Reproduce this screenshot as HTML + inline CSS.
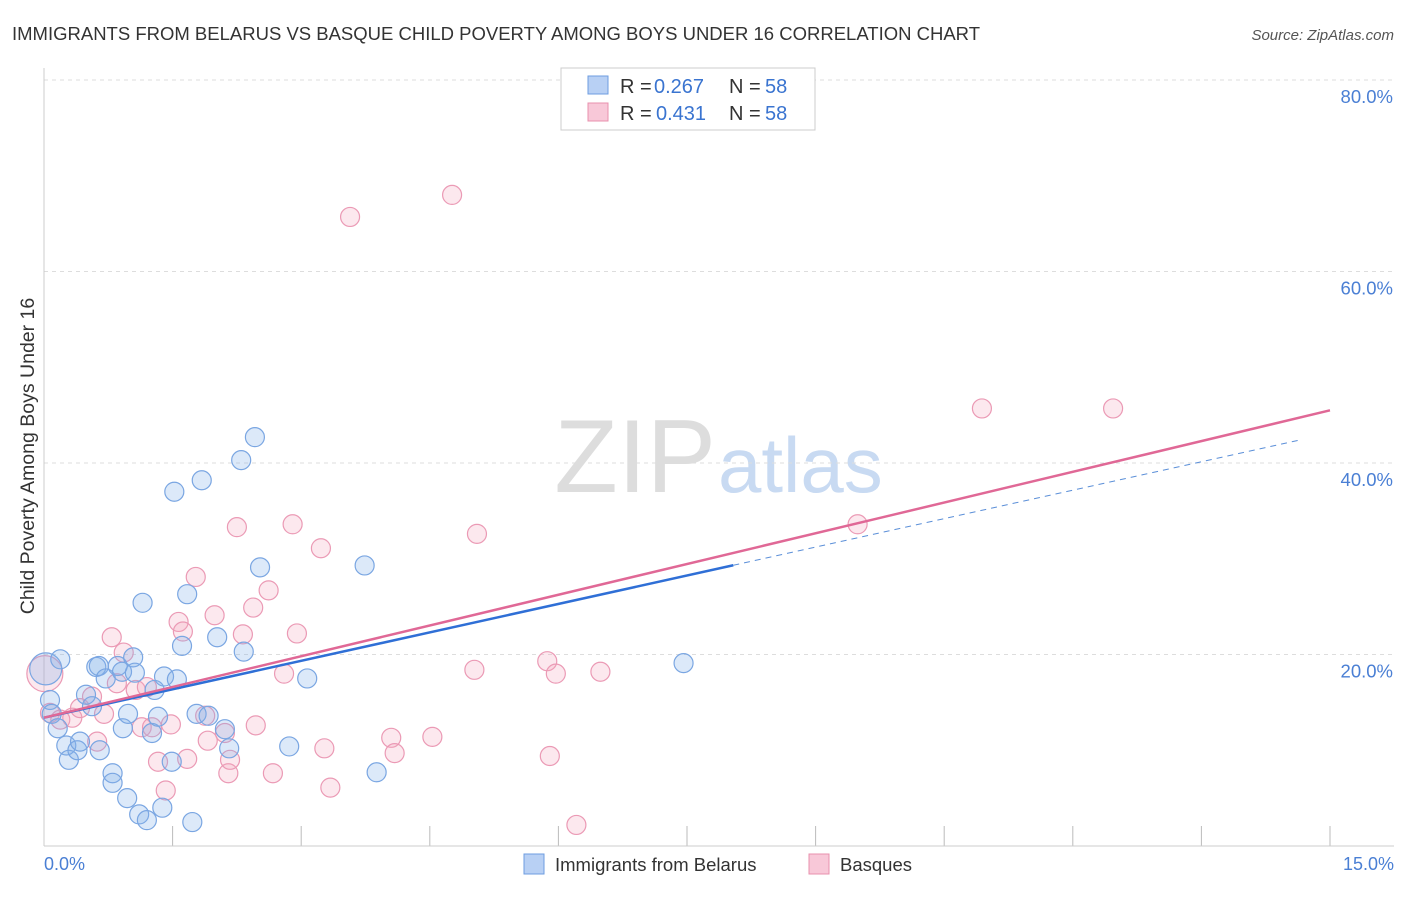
<!DOCTYPE html>
<html><head><meta charset="utf-8"><style>
body{margin:0;background:#fff;font-family:"Liberation Sans",sans-serif}
svg text{font-family:"Liberation Sans",sans-serif}
</style></head><body>
<svg id="chart" width="1406" height="892">
<text x="12" y="40" font-size="18.5" fill="#333">IMMIGRANTS FROM BELARUS VS BASQUE CHILD POVERTY AMONG BOYS UNDER 16 CORRELATION CHART</text>
<text x="1394" y="40" font-size="15" fill="#555" font-style="italic" text-anchor="end">Source: ZipAtlas.com</text>
<text x="716" y="492" font-size="104" fill="#ddd" font-family="Liberation Serif" text-anchor="end">ZIP</text>
<text x="718" y="492" font-size="78" fill="#c8daf2">atlas</text>
<g id="grid"></g>
<line x1="44" y1="68" x2="44" y2="846" stroke="#ccc"/>
<line x1="44" y1="846" x2="1394" y2="846" stroke="#ccc"/>
<text transform="translate(34,456) rotate(-90)" font-size="19.5" fill="#333" text-anchor="middle">Child Poverty Among Boys Under 16</text>
<text x="44" y="870" font-size="18" fill="#4a7fd4">0.0%</text>
<text x="1394" y="870" font-size="18" fill="#4a7fd4" text-anchor="end">15.0%</text>
<g id="marks"></g>
<g>
<rect x="561" y="68" width="254" height="62" fill="#fff" stroke="#ccc"/>
<rect x="588" y="76" width="20" height="18" fill="#b8d0f4" stroke="#6e9de0"/>
<text x="620" y="93" font-size="20" fill="#333">R =</text><text x="654" y="93" font-size="20" fill="#3a74d0">0.267</text>
<text x="729" y="93" font-size="20" fill="#333">N =</text><text x="765" y="93" font-size="20" fill="#3a74d0">58</text>
<rect x="588" y="103" width="20" height="18" fill="#f8c8d8" stroke="#e890ae"/>
<text x="620" y="120" font-size="20" fill="#333">R =</text><text x="656" y="120" font-size="20" fill="#3a74d0">0.431</text>
<text x="729" y="120" font-size="20" fill="#333">N =</text><text x="765" y="120" font-size="20" fill="#3a74d0">58</text>
</g>
<g>
<rect x="524" y="854" width="20" height="20" fill="#b8d0f4" stroke="#6e9de0"/>
<text x="555" y="871" font-size="18.5" fill="#333">Immigrants from Belarus</text>
<rect x="809" y="854" width="20" height="20" fill="#f8c8d8" stroke="#e890ae"/>
<text x="840" y="871" font-size="18.5" fill="#333">Basques</text>
</g>
</svg>
<script>
const yTicks=[20,40,60,80];
const yTickLabels=["20.0%","40.0%","60.0%","80.0%"];
const xTicks=[0,1.5,3,4.5,6,7.5,9,10.5,12,13.5,15];
const blueX=[0.07,0.19,0.09,0.16,0.26,0.29,0.39,0.42,0.49,0.56,0.61,0.64,0.65,0.72,0.80,0.80,0.86,0.91,0.92,0.97,0.98,1.04,1.06,1.11,1.15,1.20,1.26,1.29,1.33,1.38,1.40,1.49,1.52,1.55,1.61,1.67,1.73,1.78,1.84,1.92,2.02,2.11,2.16,2.30,2.33,2.46,2.52,2.86,3.07,3.74,3.88,7.46];
const blueY=[15.25,19.5,13.8,12.3,10.5,9.0,10.0,10.9,15.8,14.6,18.7,18.8,10.0,17.5,7.6,6.6,18.8,18.2,12.3,5.0,13.8,19.7,18.1,3.3,25.4,2.7,11.8,16.3,13.5,4.0,17.7,8.8,37.0,17.4,20.9,26.3,2.5,13.8,38.2,13.6,21.8,12.2,10.2,40.3,20.3,42.7,29.1,10.4,17.5,29.3,7.7,19.1];
const pinkX=[0.07,0.19,0.33,0.42,0.56,0.62,0.70,0.79,0.85,0.93,1.07,1.14,1.20,1.26,1.33,1.42,1.48,1.57,1.62,1.67,1.77,1.88,1.91,1.99,2.11,2.15,2.17,2.25,2.32,2.44,2.47,2.62,2.67,2.80,2.90,2.95,3.23,3.27,3.34,3.57,4.05,4.09,4.53,4.76,5.02,5.05,5.87,5.90,5.97,6.21,6.49,9.49,10.94,12.47];
const pinkY=[13.9,13.2,13.4,14.4,15.6,10.9,13.8,21.8,17.0,20.2,16.3,12.4,16.6,12.4,8.8,5.8,12.7,23.4,22.4,9.1,28.1,13.6,11.0,24.1,11.8,7.6,9.0,33.3,22.1,24.9,12.6,26.7,7.6,18.0,33.6,22.2,31.1,10.2,6.1,65.7,11.3,9.7,11.4,68.0,18.4,32.6,19.3,9.4,18.0,2.2,18.2,33.6,45.7,45.7];
const bigBlue=[0.02,18.5];
const bigPink=[0.01,18.0];
const blueTrend=[13.4,1.98];
const pinkTrend=[13.4,2.14];
const sx=v=>44+v/15*1286;
const sy=v=>846-v*9.575;
const NS="http://www.w3.org/2000/svg";
function mk(tag,attrs,parent){const e=document.createElementNS(NS,tag);for(const k in attrs)e.setAttribute(k,attrs[k]);parent.appendChild(e);return e;}
const grid=document.getElementById('grid'),marks=document.getElementById('marks');
yTicks.forEach((t,i)=>{
 const l=mk('line',{x1:44,x2:1394,y1:sy(t),y2:sy(t),stroke:'#ddd','stroke-dasharray':'4,4'},grid);
 
 
 const tx=mk('text',{x:1393,y:sy(t)+23,'font-size':18.5,fill:'#4a7fd4','text-anchor':'end'},grid);
 tx.textContent=yTickLabels[i];
 
 
});
xTicks.forEach(t=>{
 const l=mk('line',{x1:sx(t),x2:sx(t),y1:826,y2:846,stroke:'#bbb'},grid);
 
 
});
function dot(x,y,r,col,name){
 const c=mk('circle',{cx:sx(x),cy:sy(y),r:r,fill:col[0],stroke:col[1],'stroke-width':1.2},marks);
 
 
}
const BC=['rgba(130,175,235,0.28)','#7aa6e2'],PC=['rgba(245,165,190,0.26)','#eb9ab5'];
dot(bigPink[0],bigPink[1],18,PC,'basques-point');
dot(bigBlue[0],bigBlue[1],16,BC,'belarus-point');
pinkX.forEach((x,i)=>dot(x,pinkY[i],9.5,PC,'basques-point'));
blueX.forEach((x,i)=>dot(x,blueY[i],9.5,BC,'belarus-point'));
const bEnd=8.04,bMax=14.67;
let l1=mk('line',{x1:sx(0),y1:sy(blueTrend[0]),x2:sx(bEnd),y2:sy(blueTrend[0]+blueTrend[1]*bEnd),stroke:'#2f6fd6','stroke-width':2.5},marks);


let l2=mk('line',{x1:sx(bEnd),y1:sy(blueTrend[0]+blueTrend[1]*bEnd),x2:sx(bMax),y2:sy(blueTrend[0]+blueTrend[1]*bMax),stroke:'#5b8fd8','stroke-width':1,'stroke-dasharray':'6,5'},marks);


let l3=mk('line',{x1:sx(0),y1:sy(pinkTrend[0]),x2:sx(15),y2:sy(pinkTrend[0]+pinkTrend[1]*15),stroke:'#e06896','stroke-width':2.5},marks);


</script>
</body></html>
